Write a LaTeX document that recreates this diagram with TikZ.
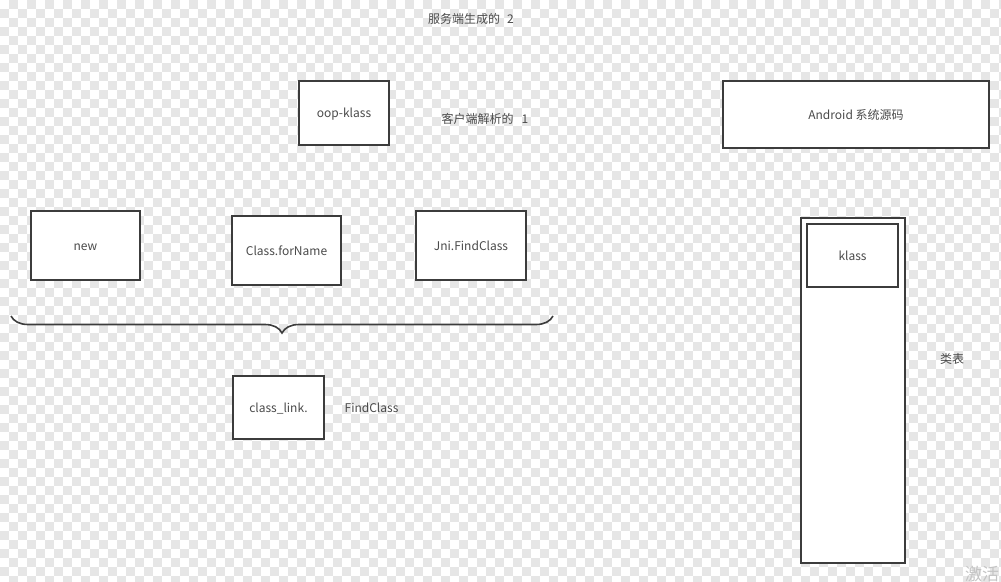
\documentclass[tikz,border=0pt]{standalone}
\usepackage{fontspec}
\setmainfont{Noto Sans CJK SC}
\usepackage{tikz}
\usepackage{xcolor}
\usetikzlibrary{decorations.pathreplacing}

\definecolor{linegray}{HTML}{3C3C3C}
\definecolor{textgray}{HTML}{4A4A4A}
\definecolor{checkgray}{HTML}{E6E6E6}
\definecolor{markgray}{HTML}{C4C4C4}

\begin{document}
\begin{tikzpicture}[x=1pt, y=-1pt,
    box/.style={draw=linegray, line width=1.6pt, fill=white, text=textgray,
                font=\fontsize{12}{14}\selectfont, inner sep=0pt,
                text height=11pt, text depth=2pt},
    label/.style={text=textgray, font=\fontsize{12}{14}\selectfont},
    brace/.style={draw=linegray, line width=1.6pt,
                  decorate, decoration={brace, mirror, amplitude=17pt}},
    watermark/.style={text=markgray, font=\fontsize{17}{19}\selectfont,
                      anchor=north west, inner sep=0pt}]
  \useasboundingbox (0,0) rectangle (1001,581);

  % checkered background
  \fill[white] (0,0) rectangle (1001,581);
  \foreach \i in {0,...,111} {
    \foreach \j in {0,...,64} {
      \pgfmathtruncatemacro\odd{mod(\i+\j,2)}
      \ifnum\odd=1
        \fill[checkgray] (9*\i,9*\j) rectangle ++(9,9);
      \fi
    }
  }

  \node[label]                                      (server)  at (471,19)      {服务端生成的\hspace{7pt}2};
  \node[box, minimum width=90,  minimum height=64]  (oop)     at (344,113)     {oop-klass};
  \node[label]                                      (client)  at (485,118.5)   {客户端解析的\hspace{8pt}1};
  \node[box, minimum width=266, minimum height=67]  (android) at (856,114.5)   {Android 系统源码};

  \node[box, minimum width=109, minimum height=69]  (new)     at (85.5,245.5)  {new};
  \node[box, minimum width=109, minimum height=69]  (forname) at (286.5,250.5) {Class.forName};
  \node[box, minimum width=110, minimum height=69]  (jni)     at (471,245.5)   {Jni.FindClass};

  \coordinate (bl) at (11,316);
  \coordinate (br) at (553,316);
  \draw[brace] (bl) -- (br);

  \node[box, minimum width=91,  minimum height=63]  (link)    at (278.5,407.5) {class\_link.};
  \node[label, right of=link, node distance=93]     (findclass)                {FindClass};

  \node[box, minimum width=104, minimum height=345] (table)   at (853,390.5)   {};
  \node[box, minimum width=91,  minimum height=63]  (klass)   at (852.5,255.5) {klass};
  \node[label]                                      (tablename) at (952,359)   {类表};

  \node[watermark]                                  (activate) at (965,566)    {激活};
\end{tikzpicture}
\end{document}
